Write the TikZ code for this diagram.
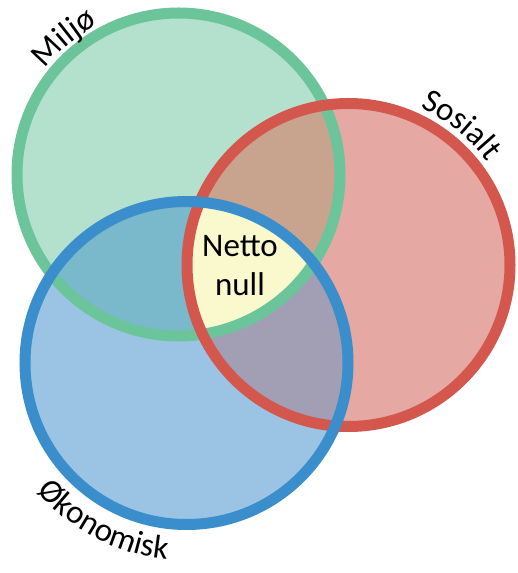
\documentclass[tikz,border=0pt]{standalone}
\usepackage{fontspec}
\setmainfont{Carlito}
\usetikzlibrary{decorations.text}
\definecolor{G1}{RGB}{108,196,155}
\definecolor{G2}{RGB}{180,225,205}
\definecolor{R1}{RGB}{212,87,78}
\definecolor{R2}{RGB}{229,168,163}
\definecolor{B1}{RGB}{58,142,204}
\definecolor{B2}{RGB}{155,196,228}
\definecolor{GR}{RGB}{200,164,143}
\definecolor{GB}{RGB}{122,184,203}
\definecolor{RB}{RGB}{162,158,180}
\definecolor{Y1}{RGB}{250,248,205}
\tikzstyle{ring}=[line width=11pt]
\newcommand{\arcfont}{\fontsize{33}{33}\selectfont}

\begin{document}
\begin{tikzpicture}[x=1pt,y=1pt]
    \useasboundingbox (0,0) rectangle (518,573);
    \coordinate (gc) at (178.5,398.5);
    \coordinate (rc) at (348.5,308);
    \coordinate (bc) at (186.5,210);
    \def\rad{161.5}
    % fills
    \fill[G2] (gc) circle (\rad);
    \fill[R2] (rc) circle (\rad);
    \fill[B2] (bc) circle (\rad);
    \begin{scope} \clip (gc) circle (\rad); \fill[GR] (rc) circle (\rad); \end{scope}
    \begin{scope} \clip (gc) circle (\rad); \fill[GB] (bc) circle (\rad); \end{scope}
    \begin{scope} \clip (rc) circle (\rad); \fill[RB] (bc) circle (\rad); \end{scope}
    \begin{scope} \clip (gc) circle (\rad); \clip (rc) circle (\rad); \fill[Y1] (bc) circle (\rad); \end{scope}
    % rings
    \draw[ring, G1] (gc) circle (\rad);
    \draw[ring, R1] (rc) circle (\rad);
    \draw[ring, B1] (bc) circle (\rad);
    \node[font=\fontsize{33}{39}\selectfont, align=center, inner sep=0] (netto) at (240,307) {Netto\\null};
    % labels along the rings
    \path[decorate, decoration={text along path, text align=center, text={|\arcfont|Miljø}}]
      (gc) ++(150:170) arc[start angle=150, end angle=110, radius=170];
    \path[decorate, decoration={text along path, text align=center, text={|\arcfont|Sosialt}}]
      (rc) ++(72:173) arc[start angle=72, end angle=30, radius=173];
    \path[decorate, decoration={text along path, text align=center, text={|\arcfont|Økonomisk}}]
      (bc) ++(212:197) arc[start angle=212, end angle=273, radius=197];
\end{tikzpicture}
\end{document}
